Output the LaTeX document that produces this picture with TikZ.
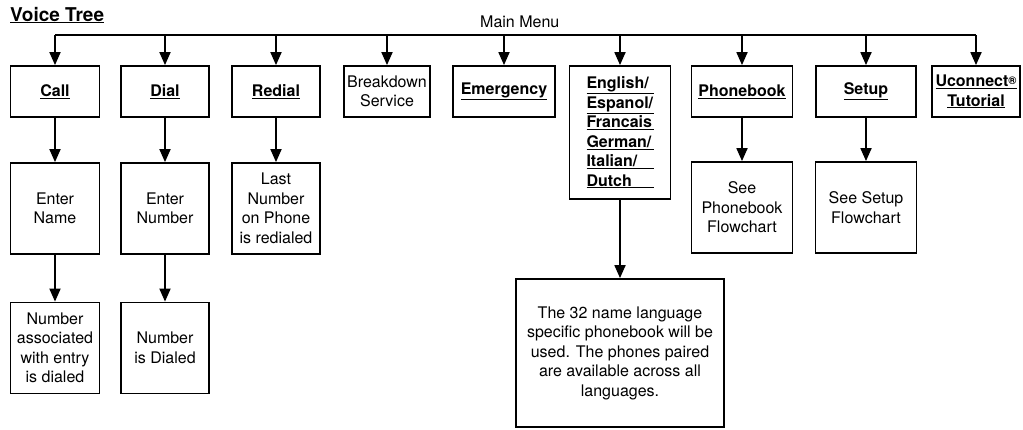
\documentclass[tikz,border=0pt]{standalone}
\usepackage{fontspec}
\setmainfont{TeX Gyre Heros}
\usetikzlibrary{arrows.meta,positioning}
\newcommand{\hd}[1]{\textbf{\underline{#1}}}
\newcommand{\lang}[1]{\underline{\makebox[67pt][l]{\textbf{#1}}}}
\begin{document}
\begin{tikzpicture}[x=1pt, y=-1pt, >={Triangle[length=13pt,width=11pt]},
    wire/.style={line width=1.8pt},
    box/.style={draw, line width=1.8pt, align=center, inner sep=0pt, minimum height=51pt,
                font=\fontsize{16}{19.5}\selectfont},
    tall/.style={box, minimum height=91pt},
    ttl/.style={font=\fontsize{19}{22}\selectfont\bfseries, anchor=base west, inner sep=0pt}]
  \useasboundingbox (0,0) rectangle (1023,429);
  % ---------------- title and menu bus ----------------
  \node[ttl] (title) at (10,21) {\underline{Voice Tree}};
  \node[anchor=base west, inner sep=0pt, font=\fontsize{16}{19.5}\selectfont] (menu) at (480,27.5) {Main Menu};
  \coordinate (bus) at (520,35);
  % ---------------- row 1: main menu items ----------------
  \node[box, minimum width=89pt]  (call)  at (55,91.5)  {\hd{Call}};
  \node[box, minimum width=88pt]  (dial)  at (165,91.5) {\hd{Dial}};
  \node[box, minimum width=88pt]  (redl)  at (276,91.5) {\hd{Redial}};
  \node[box, minimum width=86pt]  (brk)   at (387,91.5) {Breakdown\\ Service};
  \node[box, minimum width=102pt] (emg)   at (504,91.5) {\hd{Emergency}};
  \node[box, minimum width=101pt, minimum height=133pt, align=left] (eng) at (620,132.5)
       {\lang{English/}\\ \lang{Espanol/}\\ \lang{Francais}\\ \lang{German/}\\ \lang{Italian/}\\ \lang{Dutch}};
  \node[box, minimum width=101pt] (pbk)   at (742,91.5) {\hd{Phonebook}};
  \node[box, minimum width=100pt] (setup) at (866,91.5) {\hd{Setup}};
  \node[box, minimum width=88pt]  (ucon)  at (976,91.5)
       {\hd{Uconnect\raisebox{2pt}{\fontsize{11}{11}\selectfont ®}}\\ \hd{Tutorial}};
  \draw[wire] (call.north |- bus) -- (ucon.north |- bus);
  \foreach \n in {call,dial,redl,brk,emg,eng,pbk,setup,ucon} {
     \draw[wire, ->] (\n.north |- bus) -- (\n.north);
  }
  % ---------------- row 2 ----------------
  \node[tall, minimum width=89pt]  (name)   at (55,208.5)  {Enter\\ Name};
  \node[tall, minimum width=88pt]  (number) at (165,208.5) {Enter\\ Number};
  \node[tall, minimum width=88pt]  (last)   at (276,208.5) {Last\\ Number\\ on Phone\\ is redialed};
  \node[tall, minimum width=101pt] (seepbk) at (742,207.5) {See\\ Phonebook\\ Flowchart};
  \node[tall, minimum width=101pt] (seeset) at (866,207.5) {See Setup\\ Flowchart};
  % ---------------- row 3 ----------------
  \node[tall, minimum width=89pt]  (assoc)  at (55,348)  {Number\\ associated\\ with entry\\ is dialed};
  \node[tall, minimum width=88pt]  (dialed) at (165,348) {Number\\ is Dialed};
  \node[box, minimum width=208pt, minimum height=148pt] (phbk32) at (620,353)
       {The 32 name language\\ specific phonebook will be\\ used. The phones paired\\ are available across all\\ languages.};
  % ---------------- arrows down ----------------
  \foreach \a/\b in {call/name,dial/number,redl/last,pbk/seepbk,setup/seeset,name/assoc,number/dialed,eng/phbk32} {
     \draw[wire, ->] (\a.south) -- (\b.north);
  }
\end{tikzpicture}
\end{document}
